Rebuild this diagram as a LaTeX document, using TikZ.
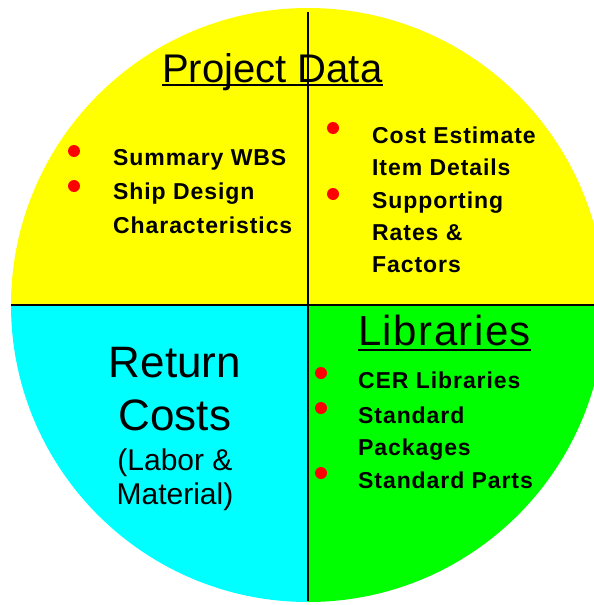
\documentclass[tikz,border=0pt]{standalone}
\usepackage{fontspec}
\setmainfont{Liberation Sans}
\usetikzlibrary{positioning,calc}

\definecolor{pyellow}{HTML}{FFFF00}
\definecolor{pcyan}{HTML}{00FFFF}
\definecolor{pgreen}{HTML}{00FF00}
\definecolor{pred}{HTML}{FF0000}

\tikzset{
  heading/.style={font=\fontsize{40}{40}\selectfont, anchor=base west, inner sep=0pt},
  bigtext/.style={font=\fontsize{44}{44}\selectfont, anchor=base, inner sep=0pt},
  subtext/.style={font=\fontsize{30}{30}\selectfont, anchor=base, inner sep=0pt},
  item/.style={font=\fontsize{23}{23}\selectfont\bfseries\addfontfeature{LetterSpace=4}, anchor=base west, inner sep=0pt},
  bullet/.style={fill=pred}
}

\begin{document}
\begin{tikzpicture}[x=1pt,y=-1pt]
\useasboundingbox (0,0) rectangle (594,605);
\coordinate (O) at (308,305);

% Quarters of the disc
\begin{scope}
  \clip (0,0) rectangle (594,305);
  \fill[pyellow] (O) circle (297);
\end{scope}
\begin{scope}
  \clip (0,305) rectangle (308,605);
  \fill[pcyan] (O) circle (297);
\end{scope}
\begin{scope}
  \clip (308,305) rectangle (594,605);
  \fill[pgreen] (O) circle (297);
\end{scope}

% Dividing lines
\coordinate (W) at (11,305);
\coordinate (E) at (594,305);
\coordinate (N) at (308,12);
\coordinate (S) at (308,601);
\draw[line width=2pt] (W) -- (E);
\draw[line width=1.5pt] (N) -- (S);

% Project Data
\node[heading] (projdata) at (162,82) {Project Data};
\draw[line width=2pt] ([yshift=-3pt]projdata.base west) -- ([yshift=-3pt]projdata.base east);

\fill[bullet] (74,151) circle (6);
\fill[bullet] (74,186) circle (6);
\foreach \y/\t [count=\i] in {165/Summary WBS, 199/Ship Design, 233/Characteristics}
  \node[item] (left\i) at (113,\y) {\t};

\fill[bullet] (333,128) circle (6);
\fill[bullet] (333,194) circle (6);
\foreach \y/\t [count=\i] in {143/Cost Estimate, 175/Item Details, 208/Supporting, 240/Rates \&, 272/Factors}
  \node[item] (right\i) at (372,\y) {\t};

% Libraries
\node[heading, font=\fontsize{42}{42}\selectfont\addfontfeature{LetterSpace=3.5}] (libs) at (358,345) {Libraries};
\draw[line width=2pt] ([yshift=-5pt]libs.base west) -- ([yshift=-5pt]libs.base east);

\fill[bullet] (321,373) circle (6);
\fill[bullet] (321,408) circle (6);
\fill[bullet] (321,473) circle (6);
\foreach \y/\t [count=\i] in {388/CER Libraries, 423/Standard, 455/Packages, 488/Standard Parts}
  \node[item] (lib\i) at (358,\y) {\t};

% Return Costs
\node[bigtext] (ret) at (175,377) {Return};
\node[bigtext] (costs) at (175,430) {Costs};
\node[subtext] (labor) at (175,470) {(Labor \&};
\node[subtext] (mat) at (175,504) {Material)};

\end{tikzpicture}
\end{document}
